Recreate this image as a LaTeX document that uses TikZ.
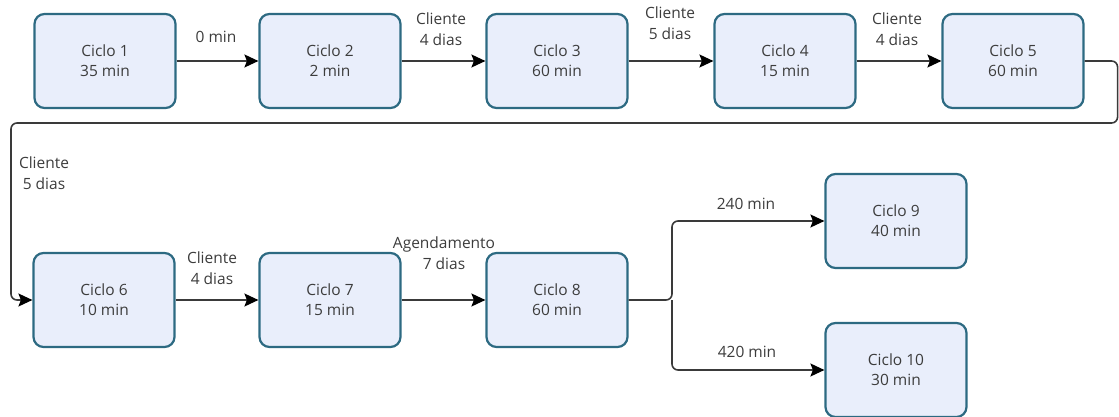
\documentclass[tikz,border=0pt]{standalone}
\usepackage{fontspec}
\setmainfont{Open Sans}
\usetikzlibrary{arrows.meta}
\definecolor{boxfill}{HTML}{E9EEFB}
\definecolor{boxline}{HTML}{2D6A82}
\definecolor{txt}{HTML}{3C3C3C}
\definecolor{wire}{HTML}{3A3A3A}
\begin{document}
\begin{tikzpicture}[x=1pt,y=-1pt,
  cyc/.style={draw=boxline,line width=2.2pt,fill=boxfill,rounded corners=10pt,
    minimum width=141pt,minimum height=94pt,align=center,text=txt,
    font=\fontsize{15.5}{20}\selectfont},
  lbl/.style={text=txt,align=center,font=\fontsize{15.5}{21}\selectfont,inner sep=1pt},
  flow/.style={draw=wire,line width=1.6pt,-{Stealth[length=14pt,width=13pt,inset=2.5pt,color=black]}}]
\useasboundingbox (0,0) rectangle (1119,417);
% first row
\node[cyc] (c1) at (105,61) {Ciclo 1\\35 min};
\node[cyc] (c2) at (330,61) {Ciclo 2\\2 min};
\node[cyc] (c3) at (557,61) {Ciclo 3\\60 min};
\node[cyc] (c4) at (785,61) {Ciclo 4\\15 min};
\node[cyc] (c5) at (1013,61) {Ciclo 5\\60 min};
% second row
\node[cyc] (c6) at (104,300) {Ciclo 6\\10 min};
\node[cyc] (c7) at (330,300) {Ciclo 7\\15 min};
\node[cyc] (c8) at (557,300) {Ciclo 8\\60 min};
\node[cyc] (c9) at (896,221) {Ciclo 9\\40 min};
\node[cyc] (c10) at (896,370) {Ciclo 10\\30 min};
% routing points
\coordinate (j) at (672,300);
\draw[flow] (c1) -- (c2);
\draw[flow] (c2) -- (c3);
\draw[flow] (c3) -- (c4);
\draw[flow] (c4) -- (c5);
\draw[flow,rounded corners=6pt] (c5.east) -- ++(33,0) |- (560,123) -| (11,300) -- (c6.west);
\draw[flow] (c6) -- (c7);
\draw[flow] (c7) -- (c8);
\draw[flow,rounded corners=6pt] (c8.east) -- (j) |- (c9.west);
\draw[flow,rounded corners=6pt] (j) |- (c10.west);
% labels
\node[lbl] (l1) at (216,37) {0 min};
\node[lbl] (l2) at (441,29) {Cliente\\4 dias};
\node[lbl] (l3) at (670,23) {Cliente\\5 dias};
\node[lbl] (l4) at (897,29) {Cliente\\4 dias};
\node[lbl] (l5) at (44,173) {Cliente\\5 dias};
\node[lbl] (l6) at (212,268) {Cliente\\4 dias};
\node[lbl] (l7) at (444,253) {Agendamento\\7 dias};
\node[lbl] (l8) at (746,204) {240 min};
\node[lbl] (l9) at (747,352) {420 min};
\end{tikzpicture}
\end{document}
